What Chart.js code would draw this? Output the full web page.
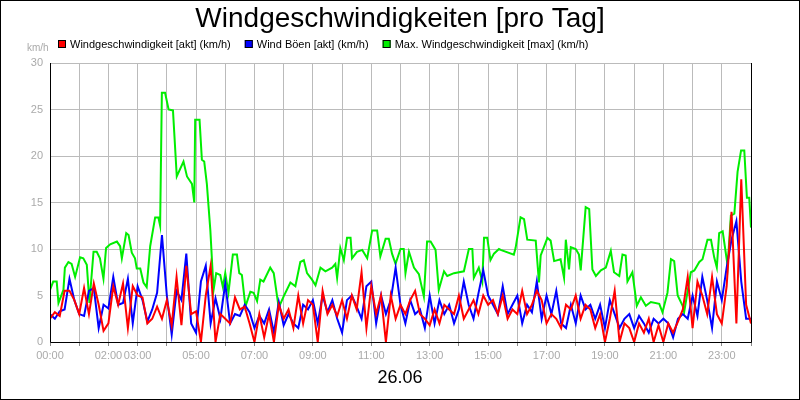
<!DOCTYPE html>
<html><head><meta charset="utf-8">
<script src="https://cdn.jsdelivr.net/npm/chart.js@4/dist/chart.umd.min.js"></script>
<style>html,body{margin:0;padding:0;background:#fff}#w{width:800px;height:400px}</style>
</head><body><div id="w"><canvas id="c" width="800" height="400"></canvas></div>
<script>
const title = "Windgeschwindigkeiten [pro Tag]";
const dateLabel = "26.06";
const unitLabel = "km/h";
const seriesNames = ["Windgeschwindigkeit [akt] (km/h)", "Wind Böen [akt] (km/h)", "Max. Windgeschwindigkeit [max] (km/h)"];
const tickHours = [0,2,3,5,7,9,11,13,15,17,19,21,23];
// 10-minute samples (hour = index/6)
const windAkt = [
2.5,3.2,2.8,5.5,5.5,4.5, 3,5.8,3,6.3,4,1.2, 2,6,4,6.3,1.5,6, 5,4.8,2,2.5,3.8,2.5,
4.5,1.8,7,1.8,8.2,3, 3.3,0,5,8.2,0,3, 2.5,2,4.8,3.5,3.8,2, 0,3,0.5,3,0,4,
2.5,3.5,1.5,5,2,4.5, 4,0,5.5,3,4,2.8, 4.5,2.5,5,3.5,7.5,1.5, 6,3,5,0,5,2.5,
4,3,4.5,5.5,3,2.5, 1.8,3.5,2,4,3.5,3, 5,2.5,3.5,4.5,3,5, 4,4.5,3,5,2.5,3.5,
3,5.5,3,4,5.5,4.5, 2,3,2.5,1.5,4,3.5, 5,2.5,4,3.5,1.5,3, 0,2.5,5.5,0,2,1.5,
0,2,1,2.5,0,1.8, 0,2,1,2.2,3.5,7, 1.5,6.5,5,3,7,3, 2,6,14,2,17.5,4, 2];
const windBoen = [
3,2.5,3.3,3.5,6.8,4.5, 3,2.8,5.5,5.8,1.5,4, 3.6,7,4,4.2,6.8,2, 6,4.5,2.2,3.5,5.3,11.5,
5,0.8,5.5,4.5,9.5,2, 1,6.5,8.2,2,4.7,2.5, 6.3,2,3,2.8,4,3.2, 1.5,2.8,2,3.5,1,4.3,
1.8,3,2,1.5,4,3.5, 4.5,2,5,3.2,4.5,2.5, 1,4.5,5,3.8,2.5,6, 6.5,2,5,3,4.5,8,
4,2,4.5,3,3.5,1.5, 5,2,4.5,3,4,2, 3.5,6.5,4,2.5,5.2,7.7, 5,4,3,6,3,4,
5,2,4,3.2,6.5,2.5, 5,3,5.5,2,1.5,4, 2,5,3.5,4,2.5,4, 1.5,4.5,3,1.5,2.5,3,
1.5,2.8,2,1,2.5,2, 2.5,2,0.5,2.5,3,2.5, 5,2.8,7,4.5,1.5,6.5, 4.5,8,11,13,6.5,2.5, 2.5];
const maxHours = [0,0.11,0.23,0.29,0.46,0.51,0.63,0.74,0.86,1.03,1.14,1.26,1.35,1.49,1.6,1.71,1.83,1.92,2.06,2.29,2.4,2.46,2.61,2.69,2.8,2.91,2.97,3.09,3.2,3.31,3.43,3.6,3.71,3.77,3.83,3.94,4.06,4.21,4.34,4.57,4.69,4.86,4.94,4.97,5.12,5.2,5.28,5.37,5.49,5.6,5.69,5.83,5.92,6.0,6.11,6.26,6.4,6.48,6.57,6.69,6.86,6.97,7.09,7.2,7.31,
7.54,7.66,7.83,8.0,8.23,8.4,8.57,8.69,8.8,8.97,9.09,9.26,9.43,9.66,9.77,9.83,9.94,10.06,10.17,10.29,10.34,10.51,10.69,10.86,11.03,11.2,11.31,11.49,11.6,11.71,11.83,12.0,12.11,12.17,12.29,12.46,12.63,12.8,12.91,13.03,13.2,13.31,13.49,13.6,13.83,14.17,14.34,14.46,14.51,14.68,14.8,14.86,14.97,15.08,15.2,15.37,
15.43,15.88,15.94,16.11,16.23,16.34,16.63,16.74,16.8,17.03,17.14,17.26,17.48,17.6,17.66,17.77,17.83,18.0,18.11,18.17,18.34,18.46,18.57,18.69,18.86,19.03,19.2,19.31,19.49,19.6,19.71,19.77,19.94,20.09,20.23,20.4,20.57,20.86,20.97,21.14,21.26,21.37,21.49,21.66,21.71,21.94,22.06,22.23,22.34,22.51,22.63,22.74,22.83,22.91,23.03,23.2,23.31,23.43,23.54,23.66,23.77,23.86,23.94,24.0];
const maxValues = [5.6,6.5,6.5,4.2,5.6,8,8.6,8.4,7,9.1,9,8.3,4.2,9.7,9.7,9,6.8,10.1,10.5,10.8,10.3,9,11.7,11.5,9.6,9,7.9,7.9,6.4,5.9,10.3,13.4,13.4,12.5,26.8,26.8,25,24.9,17.8,19.4,17.8,17,15,23.9,23.9,19.6,19.4,17,12,5.6,7.4,7.2,5.9,7.4,5.3,9.4,9.4,7.4,7.2,3.8,5.4,5.3,4.4,6.7,6.5,
8.0,7.4,3.7,4.9,6.4,6,8.6,8.8,7.4,6.7,6.1,8,7.6,8,8.4,6.9,10.1,8.8,11.2,11.2,9,9.7,9.9,9,12,12,9.2,11.1,11.1,9.5,8.4,10,10,7.4,9.7,8,7.3,4.9,10.8,10.8,9.9,5.6,7.6,7.1,7.4,7.6,10,10,6.9,8,6.5,11.2,11.2,8.8,9.5,10,
9.9,9.4,10.1,13.4,13.2,11,10.9,6.4,9.3,11.2,10.9,8.7,8.9,6.9,11,7.8,10.2,10,9.4,7.7,14.5,14.3,7.8,7.1,7.7,8,9.8,7.5,7.1,9.4,9.3,6.5,7.5,3.9,4.8,3.9,4.3,4.1,3.2,5.3,8.9,8.7,5,3.9,3.2,7.5,7.7,8.6,8.9,11,11,9.1,8,11.7,11.9,8.2,13.6,13.8,18.3,20.6,20.6,15.5,15.5,12.3];

const toXY = (arr) => arr.map((v,i)=>({x:i/6,y:v}));
const maxXY = maxHours.map((h,i)=>({x:h,y:maxValues[i]}));
const colors = ['#ff0000','#0000ff','#00ee00'];

const deco = {
  id:'deco',
  beforeDraw(ch){const c=ch.ctx;c.save();c.fillStyle='#fff';c.fillRect(0,0,800,400);c.restore();},
  afterDraw(ch){
    const c=ch.ctx, a=ch.chartArea; c.save();
    c.strokeStyle='#000';c.lineWidth=1;
    c.beginPath();c.moveTo(a.left+0.5,a.top);c.lineTo(a.left+0.5,a.bottom+0.5);c.lineTo(a.right+0.5,a.bottom+0.5);c.lineTo(a.right+0.5,a.top);c.stroke();
    c.strokeRect(0.5,0.5,799,399);
    c.fillStyle='#000';c.font='28px "Liberation Sans", Arial';c.textAlign='center';c.textBaseline='middle';
    c.fillText(title,400,19);
    c.font='18px "Liberation Sans", Arial';c.fillText(dateLabel,400,378);
    c.fillStyle='#aaa';c.font='10px "Liberation Sans", Arial';c.textAlign='left';c.fillText(unitLabel,27,48);
    let x=58; c.font='11px "Liberation Sans", Arial';
    seriesNames.forEach((n,i)=>{c.fillStyle=colors[i];c.fillRect(x,40,8,8);c.strokeStyle='#000';c.strokeRect(x+0.5,40.5,7,7);
      c.fillStyle='#000';c.fillText(n,x+12,45);x+=12+c.measureText(n).width+14;});
    c.restore();
  }
};

new Chart(document.getElementById('c'),{
  type:'line',
  data:{datasets:[
    {label:seriesNames[0],data:toXY(windAkt),borderColor:colors[0],order:1},
    {label:seriesNames[1],data:toXY(windBoen),borderColor:colors[1],order:2},
    {label:seriesNames[2],data:maxXY,borderColor:'#00ee00',order:3}
  ]},
  options:{
    responsive:false,animation:false,
    layout:{padding:{top:63,right:49,left:0,bottom:0}},
    elements:{point:{radius:0},line:{borderWidth:2,tension:0}},
    plugins:{legend:{display:false},title:{display:false},tooltip:{enabled:false}},
    scales:{
      x:{type:'linear',min:0,max:24,
        afterFit(s){s.height=58;},
        grid:{color:'#bbb',tickLength:4,tickColor:'#888'},border:{display:false},
        ticks:{stepSize:1,autoSkip:false,maxRotation:0,color:'#aaa',font:{size:11,family:'"Liberation Sans", Arial'},
          callback:(v)=>tickHours.includes(v)?String(v).padStart(2,'0')+':00':''}},
      y:{min:0,max:30,
        afterFit(s){s.width=50;},
        grid:{color:'#bbb',tickLength:4,tickColor:'#fff'},border:{display:false},
        ticks:{stepSize:5,color:'#aaa',font:{size:11,family:'"Liberation Sans", Arial'}}}
    }
  },
  plugins:[deco]
});
</script></body></html>
